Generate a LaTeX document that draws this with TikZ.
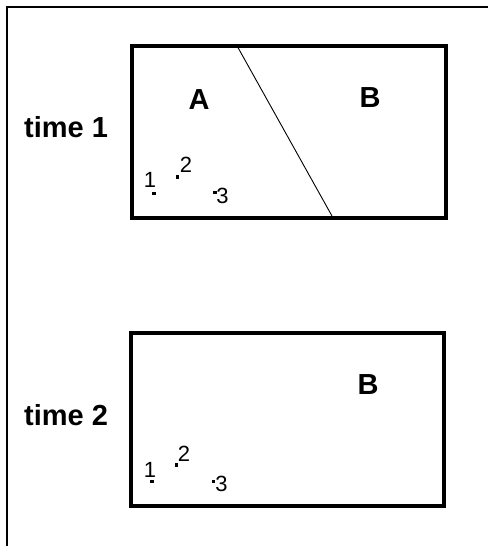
\documentclass[tikz,border=0pt]{standalone}
\usepackage{fontspec}
\setmainfont{Liberation Sans}
\begin{document}
\begin{tikzpicture}[x=1pt,y=-1pt,
  frame/.style={line width=2.5pt},
  panel/.style={draw,line width=4pt,line join=miter,rectangle,inner sep=0pt,anchor=north west},
  divider/.style={line width=0.9pt},
  bigtext/.style={font=\fontsize{29}{32}\selectfont\bfseries,inner sep=0pt},
  numtext/.style={font=\fontsize{22}{24}\selectfont,inner sep=0pt},
  pt/.style={fill=black,minimum size=3.8pt,inner sep=0pt,rectangle}]
  \useasboundingbox (0,0) rectangle (488,546);
  % outer frame: only its left and top sides fall inside the picture
  \coordinate (fbl) at (7,546);
  \coordinate (ftl) at (7,7);
  \coordinate (ftr) at (488,7);
  \draw[frame] (fbl) -- (ftl) -- (ftr);

  % first panel with its dividing line
  \node[panel,minimum width=314pt,minimum height=172pt] (p1) at (130,44) {};
  \coordinate (d1) at (236,44);
  \coordinate (d2) at (332,216);
  \draw[divider] (d1) -- (d2);
  \node[bigtext] (t1) at (66,127) {time 1};
  \node[bigtext] (a1) at (199,100) {A};
  \node[bigtext] (b1) at (370,98) {B};
  \node[pt] (q11) at (154,193.5) {};
  \node[pt] (q12) at (177.5,177) {};
  \node[pt] (q13) at (215,192.5) {};
  \node[numtext] (n11) at (150,180) {1};
  \node[numtext] (n12) at (186,165) {2};
  \node[numtext] (n13) at (222.5,195.5) {3};

  % second panel
  \node[panel,minimum width=313pt,minimum height=173pt] (p2) at (129,331) {};
  \node[bigtext] (t2) at (66,415) {time 2};
  \node[bigtext] (b2) at (368,385) {B};
  \node[pt] (q21) at (152,481.5) {};
  \node[pt] (q22) at (176.5,465) {};
  \node[pt] (q23) at (213.5,481.5) {};
  \node[numtext] (n21) at (150,470) {1};
  \node[numtext] (n22) at (184,453.5) {2};
  \node[numtext] (n23) at (221.5,484) {3};
\end{tikzpicture}
\end{document}
